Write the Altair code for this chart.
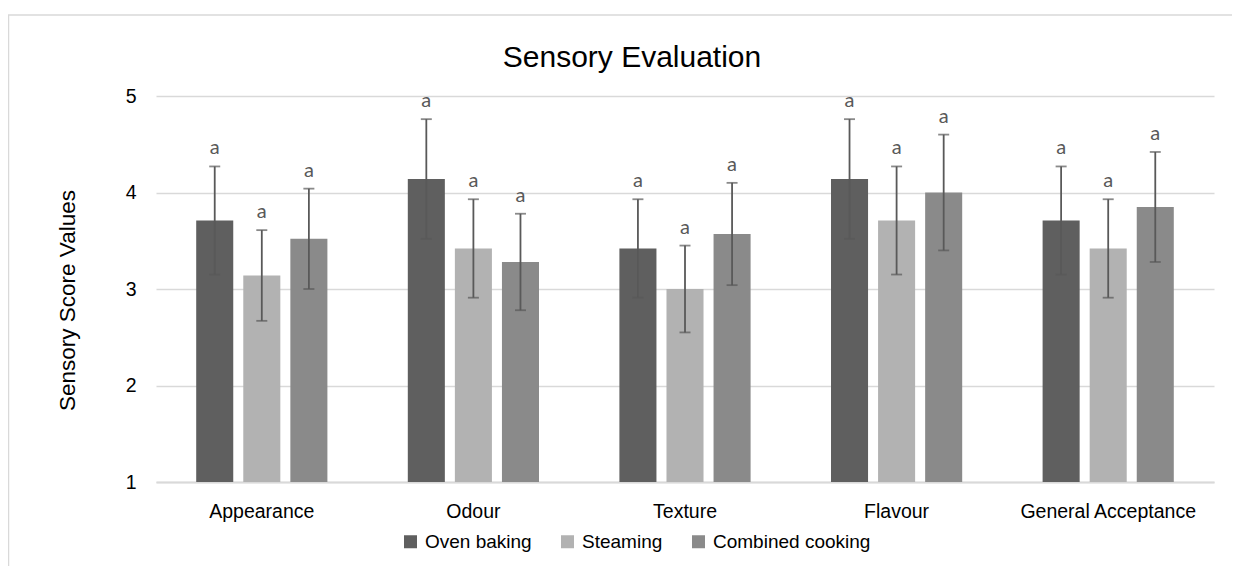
import altair as alt
import pandas as pd

categories = ["Appearance", "Odour", "Texture", "Flavour", "General Acceptance"]
methods = ["Oven baking", "Steaming", "Combined cooking"]
colors = ["#5f5f5f", "#b2b2b2", "#8a8a8a"]

oven_mean = [3.71, 4.14, 3.42, 4.14, 3.71]
oven_sd = [0.56, 0.62, 0.51, 0.62, 0.56]
steam_mean = [3.14, 3.42, 3.00, 3.71, 3.42]
steam_sd = [0.47, 0.51, 0.45, 0.56, 0.51]
comb_mean = [3.52, 3.28, 3.57, 4.00, 3.85]
comb_sd = [0.52, 0.50, 0.53, 0.60, 0.57]
letters = ["a", "a", "a", "a", "a"]

rows = []
for m, means, sds in [(methods[0], oven_mean, oven_sd),
                      (methods[1], steam_mean, steam_sd),
                      (methods[2], comb_mean, comb_sd)]:
    for c, v, s, l in zip(categories, means, sds, letters):
        rows.append({"category": c, "method": m, "value": v,
                     "lo": v - s, "hi": v + s, "letter": l})
df = pd.DataFrame(rows)

FONT = "Liberation Sans"
ERR = "#595959"

x_enc = alt.X("category:N", sort=categories,
              scale=alt.Scale(paddingInner=0.38, paddingOuter=0.19),
              axis=alt.Axis(title=None, labelAngle=0, labelFont=FONT, labelFontSize=19.5,
                            labelColor="#000000", labelPadding=20, ticks=False,
                            domain=True, domainColor="#d9d9d9", domainWidth=2, grid=False))
xo_enc = alt.XOffset("method:N", sort=methods,
                     scale=alt.Scale(paddingInner=0.213, paddingOuter=0))

base = alt.Chart(df)

bars = base.mark_bar().encode(
    x=x_enc,
    xOffset=xo_enc,
    y=alt.Y("value:Q", scale=alt.Scale(domain=[1, 5], zero=False, nice=False),
            axis=alt.Axis(values=[1, 2, 3, 4, 5], format="d", title="Sensory Score Values",
                          titleFont=FONT, titleFontSize=22.5, titleFontWeight="normal",
                          titleColor="#000000", titleX=-89, titleY=204, titleAngle=270,
                          titleAlign="center", titleBaseline="middle",
                          labelFont=FONT, labelFontSize=19.5, labelColor="#000000",
                          labelPadding=20, ticks=False, domain=False,
                          grid=True, gridColor="#d9d9d9", gridWidth=1.5)),
    y2=alt.datum(1),
    color=alt.Color("method:N", sort=methods,
                    scale=alt.Scale(domain=methods, range=colors),
                    legend=alt.Legend(orient="none", legendX=245, legendY=436,
                                      direction="horizontal", title=None,
                                      labelFont=FONT, labelFontSize=19, labelColor="#000000",
                                      symbolType="square", symbolSize=169,
                                      symbolStrokeWidth=0, columnPadding=26,
                                      labelOffset=5, padding=0)),
)

rules = base.mark_rule(color=ERR, strokeWidth=1.8).encode(
    x=x_enc, xOffset=xo_enc, y="lo:Q", y2="hi:Q")
caps_hi = base.mark_tick(color=ERR, size=11, thickness=1.8).encode(
    x=x_enc, xOffset=xo_enc, y="hi:Q")
caps_lo = base.mark_tick(color=ERR, size=11, thickness=1.8).encode(
    x=x_enc, xOffset=xo_enc, y="lo:Q")
labels = base.mark_text(color=ERR, fontSize=20, font="Lato", baseline="alphabetic",
                        dy=-12).encode(
    x=x_enc, xOffset=xo_enc, y="hi:Q", text="letter:N")

one = pd.DataFrame({"t": ["Sensory Evaluation"]})
frame = alt.Chart(one).mark_rect(fill=None, stroke="#d9d9d9", strokeWidth=1.5,
                                 clip=False).encode(
    x=alt.value(-147.5), x2=alt.value(1200), y=alt.value(-81), y2=alt.value(520))
title = alt.Chart(one).mark_text(fontSize=30, font=FONT, color="#000000",
                                 baseline="alphabetic", align="center").encode(
    x=alt.value(476), y=alt.value(-29), text="t:N")

chart = alt.layer(frame, bars, rules, caps_hi, caps_lo, labels, title).properties(
    width=1058, height=386,
    autosize=alt.AutoSizeParams(type="none"),
    padding={"left": 148, "top": 88, "right": 18, "bottom": 84},
    background="#ffffff",
).configure_view(stroke=None)

chart.save("out.html", embed_options={"renderer": "svg", "actions": False})
